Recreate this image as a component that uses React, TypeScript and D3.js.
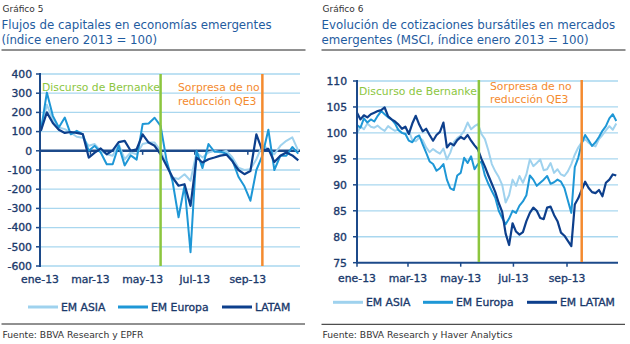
import React from "react";
import * as d3 from "d3";

// ---------- Data ----------
// Gráfico 5: weekly flows (weeks starting 2 Jan 2013)
const FLOW_START = new Date(2013, 0, 2);
const FLOW_STEP_DAYS = 7;
const FLOW_ASIA = [113, 240, 163, 121, 113, 95, 73, 68, 26, 35, 0, -18, -26, 35, -44, -9, -18, 35, 43, 43, 0, -70, -139, -147, -122, -156, -9, -35, -9, 0, -9, 0, -35, -88, -100, -96, -44, 30, 9, -18, 26, 52, 70, 0];
const FLOW_EUROPA = [104, 303, 182, 121, 173, 86, 104, 86, 0, 26, -9, -70, -70, 28, -76, -24, -46, 139, 142, 172, 130, -50, -160, -346, -182, -528, 0, -90, 35, -5, -5, -15, -50, -135, -185, -260, -100, -25, 110, -100, -26, -26, 20, -15];
const FLOW_LATAM = [104, 200, 145, 110, 93, 98, 93, 87, -35, -10, 12, -18, 2, 45, 52, 0, 8, 86, 43, 26, -18, -78, -139, -182, -174, -287, -35, -61, -44, -35, -25, -20, -55, -100, -122, -105, 86, 0, 10, -58, -26, -9, -24, -50];
const FLOW_TICKS = [400, 300, 200, 100, 0, -100, -200, -300, -400, -500, -600];

// Gráfico 6: MSCI indices (every 4 days from 1 Jan 2013)
const MSCI_START = new Date(2013, 0, 1);
const MSCI_STEP_DAYS = 4;
const MSCI_ASIA = [99.8, 101.3, 100.7, 101.8, 101.2, 101.0, 101.4, 100.8, 100.4, 101.3, 100.8, 100.4, 100.7, 100.0, 99.8, 100.4, 98.6, 98.4, 99.1, 98.6, 97.2, 96.3, 96.9, 96.4, 96.0, 97.0, 94.9, 96.2, 98.2, 99.0, 99.5, 100.4, 102.0, 100.7, 101.3, 101.7, 99.8, 98.8, 96.6, 94.0, 92.6, 91.5, 90.0, 86.6, 88.0, 91.0, 89.8, 91.7, 90.4, 92.0, 94.9, 93.6, 94.2, 94.9, 92.8, 93.0, 94.2, 92.3, 93.0, 92.0, 91.7, 92.6, 94.0, 95.8, 97.2, 98.2, 98.8, 98.1, 97.6, 97.4, 98.8, 99.6, 100.5, 101.3, 100.6, 101.8];
const MSCI_EUROPA = [101.5, 101.0, 102.8, 102.0, 102.6, 102.2, 103.3, 104.2, 103.6, 103.0, 102.6, 101.8, 100.5, 100.0, 99.8, 98.5, 98.2, 99.2, 99.5, 97.8, 96.2, 94.5, 94.0, 92.7, 93.2, 94.0, 91.0, 89.3, 89.0, 91.8, 92.3, 95.2, 94.2, 95.5, 93.0, 94.0, 94.5, 91.8, 90.2, 88.8, 87.5, 85.0, 83.6, 82.4, 83.5, 85.0, 84.6, 86.0, 86.8, 88.0, 91.8, 91.0, 89.8, 90.4, 91.0, 91.7, 90.2, 90.5, 91.0, 90.6, 89.4, 87.0, 84.6, 93.4, 95.2, 98.0, 99.6, 98.6, 97.5, 98.2, 99.2, 100.4, 101.3, 102.8, 103.6, 102.3];
const MSCI_LATAM = [103.9, 102.6, 103.4, 103.0, 103.6, 103.9, 104.2, 104.4, 104.9, 103.2, 102.6, 102.2, 101.6, 100.8, 101.2, 99.8, 101.8, 103.3, 101.6, 100.3, 100.8, 99.6, 98.5, 99.6, 100.2, 102.0, 97.2, 98.0, 97.6, 98.6, 99.2, 98.8, 99.6, 98.5, 97.6, 96.8, 95.0, 93.5, 91.8, 90.2, 88.6, 86.5, 84.8, 80.6, 78.4, 82.6, 81.0, 80.4, 80.9, 83.0, 84.6, 85.6, 85.0, 83.6, 83.4, 85.6, 85.8, 84.2, 83.0, 80.8, 80.2, 79.2, 78.2, 86.2, 87.4, 89.0, 90.6, 89.4, 88.6, 88.4, 89.0, 87.8, 90.4, 91.0, 92.0, 91.8];
const MSCI_TICKS = [110, 105, 100, 95, 90, 85, 80, 75];

const MONTH_DATES = [new Date(2013, 0, 1), new Date(2013, 2, 1), new Date(2013, 4, 1), new Date(2013, 6, 1), new Date(2013, 8, 1)];
const MONTH_LABELS = ["ene-13", "mar-13", "may-13", "jul-13", "sep-13"];
const EVENT_DATES = [new Date(2013, 4, 22), new Date(2013, 8, 18)];

const LEFT_LEGEND = ["EM ASIA", "EM Europa", "LATAM"];
const RIGHT_LEGEND = ["EM ASIA", "EM Europa", "EM LATAM"];

// ---------- Styles ----------
const C_ASIA = "#9fd2ee";
const C_EUR = "#1e97d6";
const C_LAT = "#0d3f8c";
const C_GRID = "#a9d7ef";
const C_AXIS = "#1c4a8a";
const C_LABEL = "#1b3a6c";
const C_GREEN = "#8cc63f";
const C_ORANGE = "#f48a2e";
const C_TITLE = "#1f5ca0";
const FONT = "'DejaVu Sans', Verdana, sans-serif";
const LABEL_STYLE = { fontSize: 10.8, fill: C_LABEL, fontFamily: FONT, stroke: C_LABEL, strokeWidth: 0.35 } as const;

const flowDates = FLOW_ASIA.map((_, i) => d3.timeDay.offset(FLOW_START, i * FLOW_STEP_DAYS));
const msciDates = MSCI_ASIA.map((_, i) => d3.timeDay.offset(MSCI_START, i * MSCI_STEP_DAYS));

function Legend({ items, y, starts }: { items: string[]; y: number; starts: number[] }) {
  const colors = [C_ASIA, C_EUR, C_LAT];
  return (
    <g>
      {items.map((t, i) => (
        <g key={t}>
          <line x1={starts[i]} x2={starts[i] + 30} y1={y} y2={y} stroke={colors[i]} strokeWidth={3} />
          <text x={starts[i] + 33} y={y + 4} style={LABEL_STYLE}>{t}</text>
        </g>
      ))}
    </g>
  );
}

function Header({ x, num, lines }: { x: number; num: string; lines: string[] }) {
  return (
    <g fontFamily={FONT}>
      <text x={x + 1} y={11.5} fontSize={9} fill="#333">{num}</text>
      {lines.map((l, i) => (
        <text key={i} x={x} y={28.5 + i * 15.7} fontSize={11.8} fill={C_TITLE}>{l}</text>
      ))}
      <line x1={x} x2={x + 304} y1={50} y2={50} stroke="#222" strokeWidth={1} />
    </g>
  );
}

function FlowChart() {
  const x = d3.scaleTime().domain([new Date(2013, 0, 1), new Date(2013, 10, 1)]).range([40, 300]);
  const y = d3.scaleLinear().domain([-600, 400]).range([266, 74]);
  const line = d3.line<number>().x((_, i) => x(flowDates[i])).y((v) => y(v));
  const y0 = y(0);
  return (
    <g>
      {FLOW_TICKS.filter((t) => t !== 0).map((t) => (
        <line key={t} x1={40} x2={300} y1={y(t)} y2={y(t)} stroke={C_GRID} strokeWidth={1.3} />
      ))}
      <line x1={40} x2={300} y1={y0} y2={y0} stroke={C_AXIS} strokeWidth={2.5} />
      {MONTH_DATES.map((d, i) => (
        <line key={i} x1={x(d)} x2={x(d)} y1={y0} y2={y0 + 4} stroke={C_AXIS} strokeWidth={1.5} />
      ))}
      <path d={line(FLOW_ASIA) || ""} fill="none" stroke={C_ASIA} strokeWidth={2} strokeLinejoin="round" />
      <path d={line(FLOW_EUROPA) || ""} fill="none" stroke={C_EUR} strokeWidth={2} strokeLinejoin="round" />
      <path d={line(FLOW_LATAM) || ""} fill="none" stroke={C_LAT} strokeWidth={2.2} strokeLinejoin="round" />
      <line x1={40} x2={40} y1={73} y2={267} stroke={C_AXIS} strokeWidth={2} />
      {FLOW_TICKS.map((t) => (
        <g key={t}>
          <line x1={36} x2={40} y1={y(t)} y2={y(t)} stroke={C_AXIS} strokeWidth={1.5} />
          <text x={32} y={y(t)} dy="0.36em" textAnchor="end" style={LABEL_STYLE}>{t}</text>
        </g>
      ))}
      {MONTH_LABELS.map((l, i) => (
        <text key={l} x={x(MONTH_DATES[i])} y={283} textAnchor="middle" style={LABEL_STYLE}>{l}</text>
      ))}
      <line x1={x(EVENT_DATES[0])} x2={x(EVENT_DATES[0])} y1={74} y2={266} stroke={C_GREEN} strokeWidth={2.5} />
      <line x1={x(EVENT_DATES[1])} x2={x(EVENT_DATES[1])} y1={74} y2={266} stroke={C_ORANGE} strokeWidth={2.5} />
      <g fontFamily={FONT} fontSize={10.8}>
        <text x={42} y={90.5} fill={C_GREEN}>Discurso de Bernanke</text>
        <text x={178} y={91} fill={C_ORANGE}>Sorpresa de no</text>
        <text x={178} y={104.5} fill={C_ORANGE}>reducción QE3</text>
      </g>
    </g>
  );
}

function MsciChart() {
  const x = d3.scaleTime().domain([new Date(2013, 0, 1), new Date(2013, 9, 30)]).range([357, 618]);
  const y = d3.scaleLinear().domain([75, 110]).range([262.7, 81]);
  const line = d3.line<number>().x((_, i) => x(msciDates[i])).y((v) => y(v));
  const yb = y(75);
  return (
    <g>
      {MSCI_TICKS.filter((t) => t !== 75).map((t) => (
        <line key={t} x1={357} x2={618} y1={y(t)} y2={y(t)} stroke={C_GRID} strokeWidth={1.3} />
      ))}
      <path d={line(MSCI_ASIA) || ""} fill="none" stroke={C_ASIA} strokeWidth={2} strokeLinejoin="round" />
      <path d={line(MSCI_EUROPA) || ""} fill="none" stroke={C_EUR} strokeWidth={2} strokeLinejoin="round" />
      <path d={line(MSCI_LATAM) || ""} fill="none" stroke={C_LAT} strokeWidth={2.2} strokeLinejoin="round" />
      <line x1={357} x2={618} y1={yb} y2={yb} stroke={C_AXIS} strokeWidth={2} />
      {MONTH_DATES.map((d, i) => (
        <line key={i} x1={x(d)} x2={x(d)} y1={yb} y2={yb + 4} stroke={C_AXIS} strokeWidth={1.5} />
      ))}
      <line x1={357} x2={357} y1={80} y2={263.7} stroke={C_AXIS} strokeWidth={2} />
      {MSCI_TICKS.map((t) => (
        <g key={t}>
          <line x1={353} x2={357} y1={y(t)} y2={y(t)} stroke={C_AXIS} strokeWidth={1.5} />
          <text x={347} y={y(t)} dy="0.36em" textAnchor="end" style={LABEL_STYLE}>{t}</text>
        </g>
      ))}
      {MONTH_LABELS.map((l, i) => (
        <text key={l} x={x(MONTH_DATES[i])} y={282} textAnchor="middle" style={LABEL_STYLE}>{l}</text>
      ))}
      <line x1={x(EVENT_DATES[0])} x2={x(EVENT_DATES[0])} y1={80} y2={262} stroke={C_GREEN} strokeWidth={2.5} />
      <line x1={x(EVENT_DATES[1])} x2={x(EVENT_DATES[1])} y1={80} y2={262} stroke={C_ORANGE} strokeWidth={2.5} />
      <g fontFamily={FONT} fontSize={10.8}>
        <text x={359} y={95} fill={C_GREEN}>Discurso de Bernanke</text>
        <text x={490} y={89.5} fill={C_ORANGE}>Sorpresa de no</text>
        <text x={490} y={102.5} fill={C_ORANGE}>reducción QE3</text>
      </g>
    </g>
  );
}

export default function App() {
  return (
    <div style={{ position: "fixed", left: 0, top: 0 }}>
      <svg width={630} height={344} viewBox="0 0 630 344" style={{ display: "block", background: "#fff" }}>
        <Header x={1.5} num="Gráfico 5" lines={["Flujos de capitales en economías emergentes", "(índice enero 2013 = 100)"]} />
        <Header x={321.5} num="Gráfico 6" lines={["Evolución de cotizaciones bursátiles en mercados", "emergentes (MSCI, índice enero 2013 = 100)"]} />
        <FlowChart />
        <MsciChart />
        <Legend items={LEFT_LEGEND} y={307} starts={[28, 118, 222]} />
        <Legend items={RIGHT_LEGEND} y={302.3} starts={[333, 423, 527]} />
        <line x1={1.5} x2={305} y1={324} y2={324} stroke="#222" strokeWidth={1} />
        <line x1={321.5} x2={625} y1={324.3} y2={324.3} stroke="#222" strokeWidth={1} />
        <text x={2.5} y={338} fontSize={9.2} fill="#333" fontFamily={FONT}>Fuente: BBVA Research y EPFR</text>
        <text x={322.5} y={338} fontSize={9.2} fill="#333" fontFamily={FONT}>Fuente: BBVA Research y Haver Analytics</text>
      </svg>
    </div>
  );
}
